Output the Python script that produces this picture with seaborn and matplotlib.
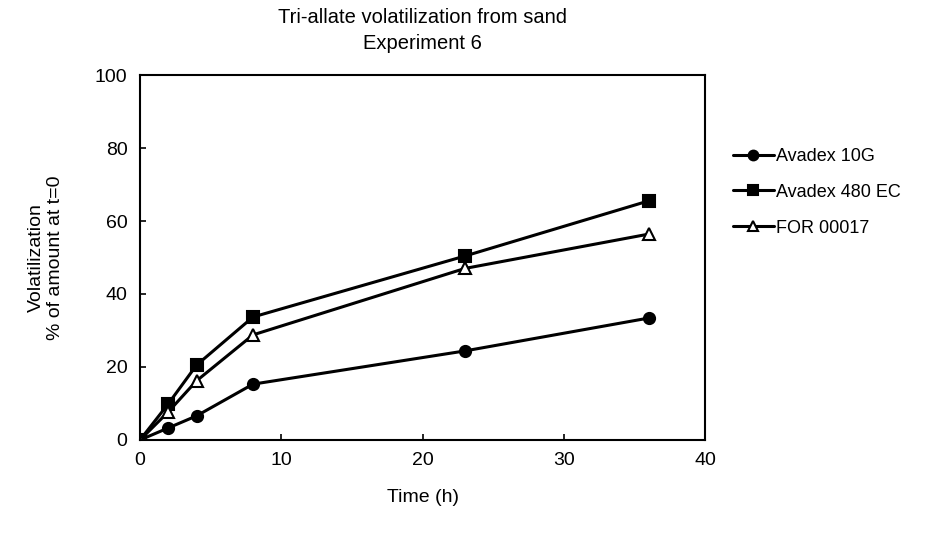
import matplotlib
matplotlib.use("Agg")
import matplotlib.pyplot as plt
import seaborn as sns
import pandas as pd

time_h = [0, 2, 4, 8, 23, 36]
avadex_10g = [0, 3.3, 6.6, 15.3, 24.4, 33.4]
avadex_480ec = [0, 9.9, 20.5, 33.7, 50.4, 65.5]
for_00017 = [0, 7.7, 16.2, 28.8, 47.0, 56.4]
series_names = ["Avadex 10G", "Avadex 480 EC", "FOR 00017"]

sns.set_theme(style="ticks")
plt.rcParams['font.family'] = ['Liberation Sans Narrow', 'Liberation Sans', 'DejaVu Sans']
plt.rcParams['text.color'] = 'black'
plt.rcParams['axes.labelcolor'] = 'black'

df = pd.DataFrame({
    "Time": time_h * 3,
    "Value": avadex_10g + avadex_480ec + for_00017,
    "Series": [series_names[0]] * 6 + [series_names[1]] * 6 + [series_names[2]] * 6,
})

fig = plt.figure(figsize=(9.29, 5.40), dpi=100)
ax = fig.add_axes([0.1507, 0.1852, 0.6082, 0.6759])

markers = {"Avadex 10G": "o", "Avadex 480 EC": "s", "FOR 00017": "^"}
for name in series_names:
    sub = df[df["Series"] == name]
    mfc = "white" if name == "FOR 00017" else "black"
    sns.lineplot(data=sub, x="Time", y="Value", ax=ax, color="black", lw=2.2,
                 marker=markers[name], markersize=8 if name != "FOR 00017" else 8.5,
                 markerfacecolor=mfc, markeredgecolor="black", markeredgewidth=1.5,
                 label=name)

ax.set_xlim(0, 40)
ax.set_ylim(0, 100)
ax.set_xticks([0, 10, 20, 30, 40])
ax.set_yticks([0, 20, 40, 60, 80, 100])
ax.tick_params(direction="in", labelsize=14, length=4, width=1.2, colors="black")
ax.tick_params(axis="y", pad=9)
ax.tick_params(axis="x", pad=9)
for s in ax.spines.values():
    s.set_visible(True)
    s.set_linewidth(1.5)
    s.set_color("black")
ax.set_xlabel("Time (h)", fontsize=14, labelpad=14, color="black")
ax.set_ylabel("Volatilization\n% of amount at t=0", fontsize=14, labelpad=22, color="black")
ax.set_title("Tri-allate volatilization from sand\nExperiment 6", fontsize=14.5, pad=19,
             linespacing=1.45, color="black")

leg = ax.legend(loc="upper left", bbox_to_anchor=(1.02, 0.845), frameon=False,
                fontsize=13, handlelength=2.3, handletextpad=0.1, labelspacing=1.05)
for t in leg.get_texts():
    t.set_color("black")
for h in leg.legend_handles:
    h.set_markersize(7)
fig.savefig("out.png", dpi=100)
